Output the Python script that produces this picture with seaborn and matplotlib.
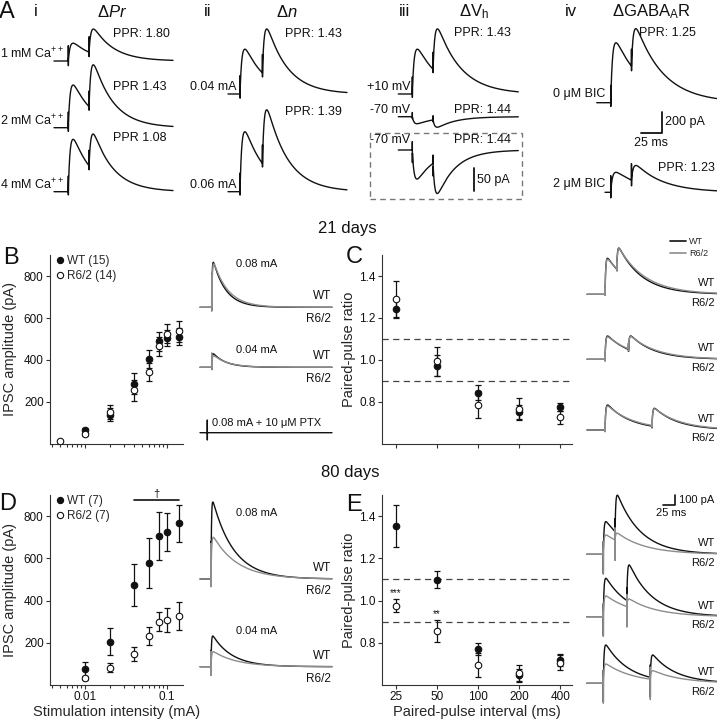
import numpy as np
import matplotlib.pyplot as plt
import seaborn as sns
from matplotlib.lines import Line2D
from matplotlib.patches import Rectangle
from matplotlib.ticker import NullFormatter, NullLocator

sns.set_theme(style="ticks")
plt.rcParams['font.family'] = ['Liberation Sans', 'DejaVu Sans']
plt.rcParams['mathtext.fontset'] = 'custom'
plt.rcParams['mathtext.rm'] = 'Liberation Sans'
plt.rcParams['mathtext.it'] = 'Liberation Sans:italic'
plt.rcParams['mathtext.default'] = 'regular'

# ---------------- data ----------------
# A: example paired-pulse IPSCs, peak of 1st and 2nd response (pA)
a1_labels = ['1 mM Ca$^{++}$', '2 mM Ca$^{++}$', '4 mM Ca$^{++}$']
a1_ppr = ['PPR: 1.80', 'PPR 1.43', 'PPR 1.08']
a1_peak1 = [165, 395, 485]
a1_peak2 = [295, 580, 530]

a2_labels = ['0.04 mA', '0.06 mA']
a2_ppr = ['PPR: 1.43', 'PPR: 1.39']
a2_peak1 = [415, 555]
a2_peak2 = [600, 755]

a3_labels = ['+10 mV', '-70 mV', '-70 mV']
a3_ppr = ['PPR: 1.43', 'PPR: 1.44', 'PPR: 1.44']
a3_peak1 = [415, -65, -65]
a3_peak2 = [600, -97, -97]

a4_labels = ['0 \u03bcM BIC', '2 \u03bcM BIC']
a4_ppr = ['PPR: 1.25', 'PPR: 1.23']
a4_peak1 = [555, 185]
a4_peak2 = [680, 247]

# B / D: input-output curves (mean +/- SEM, pA)
stim_b = [0.005, 0.01, 0.02, 0.04, 0.06, 0.08, 0.1, 0.14]
b_wt = [np.nan, 65, 140, 288, 405, 490, 505, 511]
b_wt_err = [np.nan, 10, 30, 50, 45, 45, 40, 40]
b_r6 = [14, 48, 152, 257, 343, 465, 525, 537]
b_r6_err = [5, 12, 35, 50, 45, 45, 45, 50]

stim_d = [0.01, 0.02, 0.04, 0.06, 0.08, 0.1, 0.14]
d_wt = [74, 205, 474, 577, 706, 727, 766]
d_wt_err = [35, 65, 100, 118, 113, 90, 88]
d_r6 = [32, 82, 145, 232, 300, 308, 327]
d_r6_err = [10, 20, 33, 42, 45, 57, 65]

# B / D example traces (peak, pA)
bd_trace_labels = ['0.08 mA', '0.04 mA']
b_tr_wt = [450, 135]
b_tr_r6 = [435, 115]
d_tr_wt = [770, 307]
d_tr_r6 = [417, 150]

# C / E: paired-pulse ratio vs interval
intervals = [25, 50, 100, 200, 400]
c_wt = [1.243, 0.973, 0.844, 0.751, 0.775]
c_wt_err = [0.045, 0.05, 0.035, 0.035, 0.02]
c_r6 = [1.29, 0.993, 0.787, 0.767, 0.727]
c_r6_err = [0.085, 0.07, 0.065, 0.05, 0.03]
e_wt = [1.352, 1.098, 0.771, 0.648, 0.719]
e_wt_err = [0.1, 0.04, 0.03, 0.03, 0.03]
e_r6 = [0.976, 0.856, 0.695, 0.655, 0.706]
e_r6_err = [0.03, 0.05, 0.055, 0.04, 0.035]
e_stars = ['***', '**', '', '', '']

# C / E example traces at 25, 50, 100 ms (peak of 1st and 2nd IPSC, pA)
trace_isi = [25, 50, 100]
c_tr_wt_p1 = [360, 233, 250]
c_tr_wt_p2 = [460, 233, 217]
c_tr_r6_p1 = [350, 225, 240]
c_tr_r6_p2 = [455, 228, 212]
e_tr_wt_p1 = [327, 384, 383]
e_tr_wt_p2 = [590, 517, 283]
e_tr_r6_p1 = [193, 207, 193]
e_tr_r6_p2 = [210, 176, 126]

# ---------------- figure helpers ----------------
W, H = 717, 720
INK = '#111111'
GREY = '#8c8c8c'
DT = 0.05

fig = plt.figure(figsize=(W / 100, H / 100), dpi=100)


def fbox(x0, y0, x1, y1):
    return [x0 / W, 1 - y1 / H, (x1 - x0) / W, (y1 - y0) / H]


def ftext(x, y, s, size=8.5, ha='left', va='center', **kw):
    fig.text(x / W, 1 - y / H, s, fontsize=size, ha=ha, va=va, color=INK, **kw)


def kernel(s, tr, td):
    s = np.clip(s, 0, None)
    tp = tr * td / (td - tr) * np.log(td / tr)
    kmax = np.exp(-tp / td) - np.exp(-tp / tr)
    return (np.exp(-s / td) - np.exp(-s / tr)) / kmax, tp


def response(t, peak1, peak2=None, isi=None, tr=1.5, td=25.0, art=(0.0, 0.0)):
    k1, tp = kernel(t, tr, td)
    y = peak1 * k1
    onsets = [0.0]
    if peak2 is not None:
        resid = peak1 * kernel(np.array([isi + tp]), tr, td)[0][0]
        y = y + (peak2 - resid) * kernel(t - isi, tr, td)[0]
        onsets.append(isi)
    for on in onsets:
        i = np.searchsorted(t, on)
        y[i] += art[0]
        y[i + 1] += art[1]
    return y


def trace_axes(x0, x1, x_stim, base, px_ms, px_pa):
    top, bot = base - 90, base + 40
    ax = fig.add_axes(fbox(x0, top, x1, bot))
    ax.set_xlim((x0 - x_stim) / px_ms, (x1 - x_stim) / px_ms)
    ax.set_ylim(-(bot - base) / px_pa, (base - top) / px_pa)
    ax.axis('off')
    t = np.arange(ax.get_xlim()[0], ax.get_xlim()[1], DT)
    return ax, t


def style_summary(ax):
    sns.despine(ax=ax)
    for sp in ('left', 'bottom'):
        ax.spines[sp].set_linewidth(0.8)
        ax.spines[sp].set_color('#333333')
    ax.tick_params(which='both', direction='out', width=0.8, colors='#333333',
                   labelcolor=INK, labelsize=8.5, pad=1.5)
    ax.tick_params(which='major', length=3)
    ax.tick_params(which='minor', length=2)
    ax.set_facecolor('none')
    ax.grid(False)


def plot_groups(ax, x_wt, wt, wt_err, x_r6, r6, r6_err):
    for x, y, e, face in [(x_wt, wt, wt_err, INK), (x_r6, r6, r6_err, 'white')]:
        ax.errorbar(x, y, yerr=e, fmt='none', ecolor=INK, elinewidth=0.9,
                    capsize=2.3, capthick=0.9, zorder=2)
        sns.scatterplot(x=x, y=y, ax=ax, color=face, edgecolor=INK, linewidth=0.8,
                        s=22, zorder=3, legend=False)


PX_MS_A, PX_PA_A = 0.83, 0.108

# ---------------- panel A ----------------
ftext(6.5, 12, 'A', size=17, ha='center')
for x, s in [(36, 'i'), (112, '\u0394$\\it{Pr}$'), (208, 'ii'), (287, '\u0394$\\it{n}$'),
             (404, 'iii'), (474, '\u0394V$_h$'), (571, 'iv'), (651, '\u0394GABA$_A$R')]:
    ftext(x, 12, s, size=12, ha='center')

# i: extracellular Ca
for base, ppr_y, lab, ppr, p1, p2 in zip([61, 127.7, 191.7], [33.7, 87.3, 137.7],
                                         a1_labels, a1_ppr, a1_peak1, a1_peak2):
    ax, t = trace_axes(54, 173, 68.3, base, PX_MS_A, PX_PA_A)
    ax.plot(t, response(t, p1, p2, 25, tr=2.2, td=24, art=(140, -50)),
            color=INK, lw=1.0, clip_on=False)
    ftext(0.5, base - 7, lab, size=9)
    ftext(113, ppr_y, ppr, size=9)

# ii: stimulus intensity
for base, ppr_y, lab, ppr, p1, p2 in zip([94, 191.7], [34, 112],
                                         a2_labels, a2_ppr, a2_peak1, a2_peak2):
    ax, t = trace_axes(228, 347, 240, base, PX_MS_A, PX_PA_A)
    ax.plot(t, response(t, p1, p2, 27, tr=2.2, td=25, art=(160, -60)),
            color=INK, lw=1.0, clip_on=False)
    ftext(236, base - 7, lab, size=9, ha='right')
    ftext(285, ppr_y, ppr, size=9)

# iii: holding potential
for base, px_pa, td, art, lab_y, ppr_y, lab, ppr, p1, p2 in zip(
        [94, 116.7, 150], [PX_PA_A, PX_PA_A, 0.447], [28, 22, 22],
        [(150, -50), (40, -15), (20, -25)], [87.3, 110, 140], [33.3, 110, 140],
        a3_labels, a3_ppr, a3_peak1, a3_peak2):
    ax, t = trace_axes(398.3, 518.3, 412.3, base, PX_MS_A, px_pa)
    ax.plot(t, response(t, p1, p2, 25, tr=2.2, td=td, art=art),
            color=INK, lw=1.0, clip_on=False)
    ftext(410, lab_y, lab, size=9, ha='right')
    ftext(454.3, ppr_y, ppr, size=9)
    if px_pa > 0.2:
        # 50 pA scale bar of the magnified trace
        x_bar = (474.3 - 412.3) / PX_MS_A
        ax.plot([x_bar, x_bar], [-(190.7 - base) / px_pa, -(190.7 - base) / px_pa + 50],
                color=INK, lw=1.3, clip_on=False)
ftext(477, 180, '50 pA', size=9)
fig.add_artist(Rectangle((370 / W, 1 - 199 / H), 152 / W, 66 / H, transform=fig.transFigure,
                         fill=False, ec='#777777', lw=1.0, ls=(0, (4, 3))))

# iv: GABA-A receptor block
for x0, base, ppr_x, ppr_y, lab, ppr, p1, p2 in zip(
        [596.7, 605], [102.7, 192.3], [639.3, 657.7], [33.3, 167.7],
        a4_labels, a4_ppr, a4_peak1, a4_peak2):
    ax, t = trace_axes(x0, 716.7, 610.7, base, PX_MS_A, PX_PA_A)
    ax.plot(t, response(t, p1, p2, 25, tr=2.2, td=33, art=(150, -60)),
            color=INK, lw=1.0, clip_on=False)
    ftext(605, base - 8.5, lab, size=9, ha='right')
    ftext(ppr_x, ppr_y, ppr, size=9)
    if base < 150:
        t0 = (641 - 610.7) / PX_MS_A
        y0 = -(133.3 - base) / PX_PA_A
        ax.plot([t0, t0 + 25, t0 + 25], [y0, y0, y0 + 200], color=INK, lw=1.3, clip_on=False)
ftext(665, 122, '200 pA', size=9)
ftext(651, 143, '25 ms', size=9, ha='center')

# ---------------- panels B and D ----------------
ftext(347, 228, '21 days', size=12, ha='center')
ftext(350, 473, '80 days', size=12, ha='center')
ftext(11, 258, 'B', size=17, ha='center')
ftext(8, 503.7, 'D', size=17, ha='center')

for (y0, y1), x_wt, wt, wt_err, x_r6, r6, r6_err, leg in [
        ((255, 444), stim_b, b_wt, b_wt_err, stim_b, b_r6, b_r6_err, ['WT (15)', 'R6/2 (14)']),
        ((495, 685), stim_d, d_wt, d_wt_err, stim_d, d_r6, d_r6_err, ['WT (7)', 'R6/2 (7)'])]:
    ax = fig.add_axes(fbox(50, y0, 183, y1))
    ax.set_xscale('log')
    plot_groups(ax, x_wt, wt, wt_err, x_r6, r6, r6_err)
    ax.set_xlim(0.00374, 0.157)
    ax.set_ylim(0, 900)
    ax.set_yticks([200, 400, 600, 800])
    ax.set_xticks([0.01, 0.1], ['0.01', '0.1'])
    ax.xaxis.set_minor_formatter(NullFormatter())
    style_summary(ax)
    ax.set_ylabel('IPSC amplitude (pA)', fontsize=10.5)
    ax.yaxis.set_label_coords(-0.25, 0.5)
    ax.set_xlabel('')
    handles = [Line2D([], [], marker='o', ls='none', mfc=INK, mec=INK, ms=4.5, mew=0.8),
               Line2D([], [], marker='o', ls='none', mfc='white', mec=INK, ms=4.5, mew=0.8)]
    ax.legend(handles, leg, loc='upper left', bbox_to_anchor=(0.03, 1.0), frameon=False,
              fontsize=8.5, handletextpad=0.1, handlelength=1.0, labelspacing=0.25,
              borderpad=0, borderaxespad=0)
    if y0 > 400:
        ax.set_xlabel('Stimulation intensity (mA)', fontsize=10.5, labelpad=1.5)
        ax.plot([0.04, 0.14], [875, 875], color=INK, lw=1.2, clip_on=False)
        ax.text(0.0735, 880, '\u2020', ha='center', va='bottom', fontsize=8, color=INK)
    else:
        ax.set_xticklabels([])

# B / D example traces
for bases, x_stim, tr_wt, tr_r6, td_wt, td_r6, arts, lab_y in [
        ([307.3, 367.3], 211.7, b_tr_wt, b_tr_r6, [27, 27], [31, 31], [(330, -60), (140, -30)], [264, 350]),
        ([579, 666.7], 211, d_tr_wt, d_tr_r6, [45, 41], [52, 50], [(340, -110), (150, -100)], [513, 631])]:
    for base, p_wt, p_r6, tw, trr, art, ly, lab in zip(bases, tr_wt, tr_r6, td_wt, td_r6, arts,
                                                        lab_y, bd_trace_labels):
        ax, t = trace_axes(200, 332, x_stim, base, 0.47, 0.1)
        ax.plot(t, response(t, p_wt, tr=1.0, td=tw, art=art), color=INK, lw=1.0, clip_on=False)
        ax.plot(t, response(t, p_r6, tr=1.3, td=trr, art=art), color=GREY, lw=1.0, clip_on=False)
        ftext(236, ly, lab, size=8)
        ftext(331, base - 11, 'WT', ha='right')
        ftext(331, base + 12, 'R6/2', ha='right')

# PTX trace
ax, t = trace_axes(200, 332, 207.3, 432.7, 0.47, 0.1)
ax.plot(t, response(t, 0.0, tr=1.0, td=27, art=(127, -73)), color=INK, lw=1.0, clip_on=False)
ftext(212, 423, '0.08 mA + 10 \u03bcM PTX', size=8)

# ---------------- panels C and E ----------------
ftext(354, 257, 'C', size=17, ha='center')
ftext(354, 505, 'E', size=17, ha='center')

for (y0, y1), wt, wt_err, r6, r6_err in [((255, 444), c_wt, c_wt_err, c_r6, c_r6_err),
                                          ((495, 685), e_wt, e_wt_err, e_r6, e_r6_err)]:
    ax = fig.add_axes(fbox(382, y0, 572, y1))
    ax.set_xscale('log', base=2)
    ax.axhline(1.1, color='#444444', lw=0.9, ls=(0, (5, 3.5)), zorder=1)
    ax.axhline(0.9, color='#444444', lw=0.9, ls=(0, (5, 3.5)), zorder=1)
    plot_groups(ax, intervals, wt, wt_err, intervals, r6, r6_err)
    ax.set_xlim(19.75, 485.6)
    ax.set_ylim(0.6, 1.5)
    ax.set_yticks([0.8, 1.0, 1.2, 1.4], ['0.8', '1.0', '1.2', '1.4'])
    ax.set_xticks(intervals, [str(v) for v in intervals])
    ax.xaxis.set_minor_locator(NullLocator())
    style_summary(ax)
    ax.set_ylabel('Paired-pulse ratio', fontsize=10.5)
    ax.yaxis.set_label_coords(-0.135, 0.5)
    ax.set_xlabel('')
    if y0 > 400:
        ax.set_xlabel('Paired-pulse interval (ms)', fontsize=10.5, labelpad=1.5)
        for x, y, e, s in zip(intervals, r6, r6_err, e_stars):
            if s:
                ax.text(x, y + e + 0.005, s, ha='center', va='bottom', fontsize=7, color=INK)
    else:
        ax.set_xticklabels([])

# C / E example traces
for bases, x0, x_stim, p1w, p2w, p1r, p2r, td_r6, art in [
        ([294.3, 359.3, 430], 587, 605, c_tr_wt_p1, c_tr_wt_p2, c_tr_r6_p1, c_tr_r6_p2, 56, (60, -25)),
        ([554.3, 616.7, 683.3], 586.7, 603.3, e_tr_wt_p1, e_tr_wt_p2, e_tr_r6_p1, e_tr_r6_p2, 60, (120, -210))]:
    for base, isi, a, b, c, d in zip(bases, trace_isi, p1w, p2w, p1r, p2r):
        ax, t = trace_axes(x0, 717, x_stim, base, 0.47, 0.1)
        ax.plot(t, response(t, a, b, isi, tr=1.5, td=50, art=art), color=INK, lw=1.0, clip_on=False)
        ax.plot(t, response(t, c, d, isi, tr=1.5, td=td_r6, art=art), color=GREY, lw=1.0, clip_on=False)
        ftext(715, base - 11, 'WT', size=8, ha='right')
        ftext(715, base + 8.5, 'R6/2', size=8, ha='right')
        if base == 554.3:
            t0 = (663.3 - x_stim) / 0.47
            y0 = (base - 505) / 0.1
            ax.plot([t0, t0 + 25, t0 + 25], [y0, y0, y0 + 100], color=INK, lw=1.2, clip_on=False)
ftext(679, 500, '100 pA', size=8)
ftext(671, 513, '25 ms', size=8, ha='center')

fig.legend([Line2D([], [], color=INK, lw=1.2), Line2D([], [], color=GREY, lw=1.2)], ['WT', 'R6/2'],
           loc='upper left', bbox_to_anchor=(670 / W, 1 - 237 / H), frameon=False, fontsize=6.5,
           handlelength=1.8, handletextpad=0.3, labelspacing=0.35, borderpad=0, borderaxespad=0)

fig.savefig('out.png', dpi=100)
